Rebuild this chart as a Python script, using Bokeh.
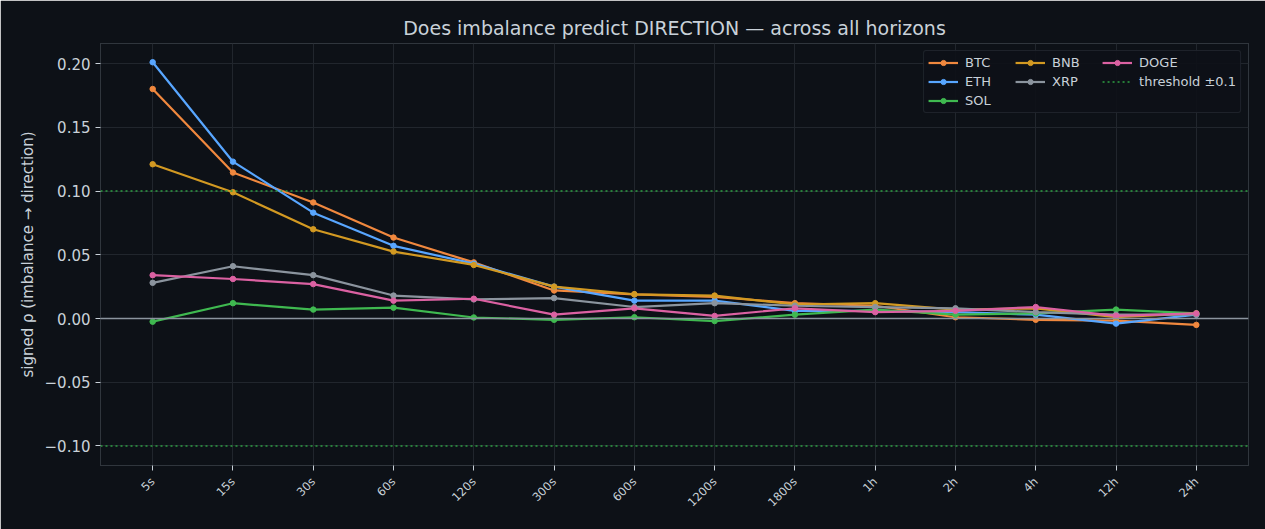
from bokeh.plotting import figure
from bokeh.models import Span, Legend, LegendItem, FixedTicker, CustomJSTickFormatter, Range1d
from bokeh.embed import file_html
from bokeh.resources import INLINE
import math

horizons = ["5s", "15s", "30s", "60s", "120s", "300s", "600s", "1200s", "1800s", "1h", "2h", "4h", "12h", "24h"]
btc = [0.180, 0.1145, 0.091, 0.0635, 0.044, 0.022, 0.019, 0.017, 0.012, 0.010, 0.001, -0.001, -0.0016, -0.005]
eth = [0.201, 0.123, 0.083, 0.057, 0.043, 0.025, 0.014, 0.014, 0.006, 0.006, 0.005, 0.003, -0.004, 0.003]
sol = [-0.0025, 0.012, 0.007, 0.0085, 0.0008, -0.001, 0.001, -0.002, 0.003, 0.007, 0.003, 0.004, 0.007, 0.004]
bnb = [0.121, 0.099, 0.070, 0.0525, 0.042, 0.025, 0.019, 0.018, 0.011, 0.012, 0.007, 0.008, 0.001, 0.004]
xrp = [0.028, 0.041, 0.034, 0.018, 0.015, 0.016, 0.009, 0.012, 0.010, 0.009, 0.008, 0.005, 0.003, 0.003]
doge = [0.034, 0.031, 0.027, 0.014, 0.0155, 0.003, 0.008, 0.002, 0.008, 0.005, 0.006, 0.009, 0.002, 0.004]
threshold = 0.1
y_ticks = [-0.10, -0.05, 0.00, 0.05, 0.10, 0.15, 0.20]

series = [("BTC", btc, "#f0883e"), ("ETH", eth, "#58a6ff"), ("SOL", sol, "#3fb950"),
          ("BNB", bnb, "#d29922"), ("XRP", xrp, "#8b949e"), ("DOGE", doge, "#db61a2")]

BG = "#0d1117"
FG = "#c9d1d9"
GRID = "#21262d"
THR = "#2ea043"

p = figure(width=1265, height=529, output_backend="svg", toolbar_location=None,
           title="Does imbalance predict DIRECTION \u2014 across all horizons",
           x_range=Range1d(-0.65, len(horizons) - 1 + 0.65), y_range=Range1d(-0.1153, 0.2157),
           background_fill_color=BG, border_fill_color=BG,
           min_border_left=100, min_border_right=17, min_border_top=43, min_border_bottom=64)

p.title.align = "center"
p.title.text_color = FG
p.title.text_font = "DejaVu Sans"
p.title.text_font_size = "19px"
p.title.text_font_style = "normal"

p.outline_line_color = "#30363d"
p.outline_line_width = 1

p.xgrid.grid_line_color = GRID
p.ygrid.grid_line_color = GRID
p.xgrid.grid_line_width = 1
p.ygrid.grid_line_width = 1

xs = list(range(len(horizons)))
p.xaxis.ticker = FixedTicker(ticks=xs)
p.xaxis.major_label_overrides = {i: h for i, h in enumerate(horizons)}
p.xaxis.major_label_orientation = math.pi / 4
p.xaxis.major_label_standoff = 9
p.yaxis.ticker = FixedTicker(ticks=y_ticks)
p.yaxis.formatter = CustomJSTickFormatter(code="return (tick < -1e-9 ? '\u2212' : '') + Math.abs(tick).toFixed(2);")

for ax in (p.xaxis[0], p.yaxis[0]):
    ax.axis_line_color = None
    ax.major_tick_line_color = FG
    ax.major_tick_in = 0
    ax.major_tick_out = 5
    ax.minor_tick_line_color = None
    ax.major_label_text_color = FG
    ax.major_label_text_font = "DejaVu Sans"
    ax.axis_label_text_color = FG
    ax.axis_label_text_font = "DejaVu Sans"
    ax.axis_label_text_font_style = "normal"
p.xaxis.major_label_text_font_size = "11.5px"
p.yaxis.major_label_text_font_size = "15px"
p.yaxis.axis_label = "signed \u03c1 (imbalance \u2192 direction)"
p.yaxis.axis_label_text_font_size = "15px"

p.add_layout(Span(location=0, dimension="width", line_color="#8b949e", line_width=1.5))
for loc in (threshold, -threshold):
    p.add_layout(Span(location=loc, dimension="width", line_color=THR, line_width=1.5, line_dash="2 3"))

items = {}
for name, vals, col in series:
    r1 = p.line(xs, vals, line_color=col, line_width=2.2)
    r2 = p.scatter(xs, vals, size=5.5, fill_color=col, line_color=col)
    items[name] = LegendItem(label=name, renderers=[r1, r2])
nan_vals = [float("nan")] * len(xs)
thr = p.line(xs, nan_vals, line_color=THR, line_width=1.5, line_dash="2 3")
items["threshold"] = LegendItem(label="threshold \u00b10.1", renderers=[thr])
blank = p.line(xs, nan_vals, line_alpha=0)
items["blank"] = LegendItem(label=" ", renderers=[blank])

order = ["BTC", "ETH", "SOL", "BNB", "XRP", "blank", "DOGE", "threshold"]
legend = Legend(items=[items[k] for k in order], ncols=3, location="top_right",
                background_fill_color=BG, background_fill_alpha=0.9,
                border_line_color="#30363d", border_line_width=1.5, border_radius=3,
                label_text_color=FG, label_text_font="DejaVu Sans", label_text_font_size="13px",
                glyph_width=30, glyph_height=13, label_height=13, label_width=46, spacing=4,
                padding=4, margin=7, label_standoff=7)
p.add_layout(legend)

open("out.html", "w").write(file_html(p, INLINE))
